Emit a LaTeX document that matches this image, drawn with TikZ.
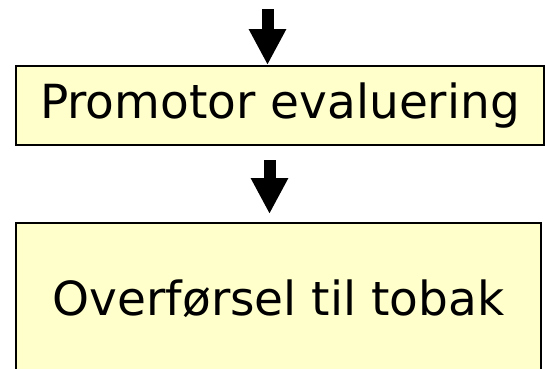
\documentclass[tikz,border=0pt]{standalone}
\usepackage{fontspec}
\setmainfont{DejaVu Sans}
\usetikzlibrary{arrows.meta}
\definecolor{boxfill}{HTML}{FFFFCC}
\tikzset{
    stepbox/.style={draw=black, line width=2pt, fill=boxfill, inner sep=0pt,
        font=\fontsize{47}{56}\selectfont},
    flow/.style={line width=12pt, -{Triangle[width=35pt,length=36pt]}}
}
\begin{document}
\begin{tikzpicture}[x=1pt,y=1pt]
        \useasboundingbox (0,0) rectangle (546,-368);
        \clip (0,0) rectangle (546,-368);

        \node[stepbox, minimum width=528pt, minimum height=79pt] (eval) at (280,-105.5) {Promotor evaluering};
        \node[stepbox, minimum width=525pt, minimum height=152pt] (tobak) at (278.5,-299) {Overførsel til tobak};

        \coordinate (in) at (267.5,-9);
        \coordinate (mid) at (269.5,0);

        \draw[flow] (in) -- (in |- eval.north);
        \draw[flow, shorten <=14pt, shorten >=8pt] (mid |- eval.south) -- (mid |- tobak.north);
\end{tikzpicture}
\end{document}
